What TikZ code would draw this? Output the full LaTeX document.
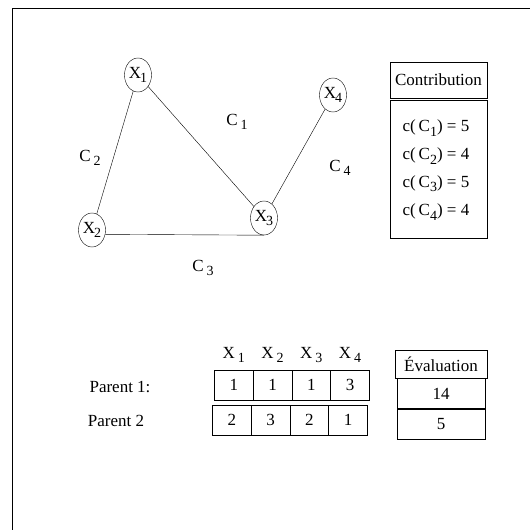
\documentclass[tikz,border=0pt]{standalone}
\usepackage{fontspec}
\setmainfont{Liberation Serif}
\usetikzlibrary{shapes.geometric}

% lowered index, as printed in the figure
\newcommand{\low}[1]{\raisebox{-0.55ex}{\fontsize{14}{16}\selectfont #1}}

\begin{document}
\begin{tikzpicture}[x=1pt, y=-1pt,
    every node/.style={font=\fontsize{17}{20}\selectfont},
    var/.style={draw, ellipse, inner sep=0pt, minimum width=27pt, minimum height=34pt}, % variables
    cell/.style={draw, minimum width=38.75pt, minimum height=30pt, inner sep=0pt}, % gene cells
    box/.style={draw, minimum width=97pt, inner sep=0pt} % side tables
]
\useasboundingbox (0,0) rectangle (530,530);

% frame (only top and left survive in the scan)
\draw (12,530) -- (12,8) -- (530,8);

% constraint graph
\node[var] (x1) at (138,75) {X\kern-1pt\low{1}};
\node[var] (x2) at (92,230) {X\kern-1pt\low{2}};
\node[var] (x3) at (264,218) {X\kern-1pt\low{3}};
\node[var] (x4) at (333,95) {X\kern-1pt\low{4}};

\draw (x1) -- (x3);
\draw (x1) -- (x2);
\draw (x2.-18) -- (x3.south);
\draw (x3) -- (x4);

\node (c1) at (237,122) {C\,\low{1}};
\node (c2) at (90,158) {C\,\low{2}};
\node (c3) at (203,268) {C\,\low{3}};
\node (c4) at (340,168) {C\,\low{4}};

% contribution table
\node[box, minimum height=36pt] (contrib) at (438.5,80) {Contribution};
\node[box, minimum height=138pt, anchor=north] (vals) at ([yshift=-2pt]contrib.south) {};
\foreach \i/\v [count=\k] in {1/5,2/4,3/5,4/4}
    \node (cc\i) at (436,100+28*\k) {c(\,C\low{\i}) = \v};

% chromosomes
\foreach \i in {1,...,4}
    \node (h\i) at (195+38.75*\i,355) {X\,\low{\i}};

\node (p1) at (120,387) {Parent 1:};
\node (p2) at (116,421) {Parent 2};
\foreach \v [count=\i] in {1,1,1,3}
    \node[cell] (a\i) at (195+38.75*\i,385) {\v};
\foreach \v [count=\i] in {2,3,2,1}
    \node[cell] (b\i) at (193+38.75*\i,420) {\v};

% evaluation table
\node[box, minimum width=92pt, minimum height=28pt] (eval) at (441,364) {Évaluation};
\node[box, minimum width=88pt, minimum height=30pt, anchor=north] (e1) at (eval.south) {14};
\node[box, minimum width=88pt, minimum height=30pt, anchor=north] (e2) at (e1.south) {5};

\end{tikzpicture}
\end{document}
